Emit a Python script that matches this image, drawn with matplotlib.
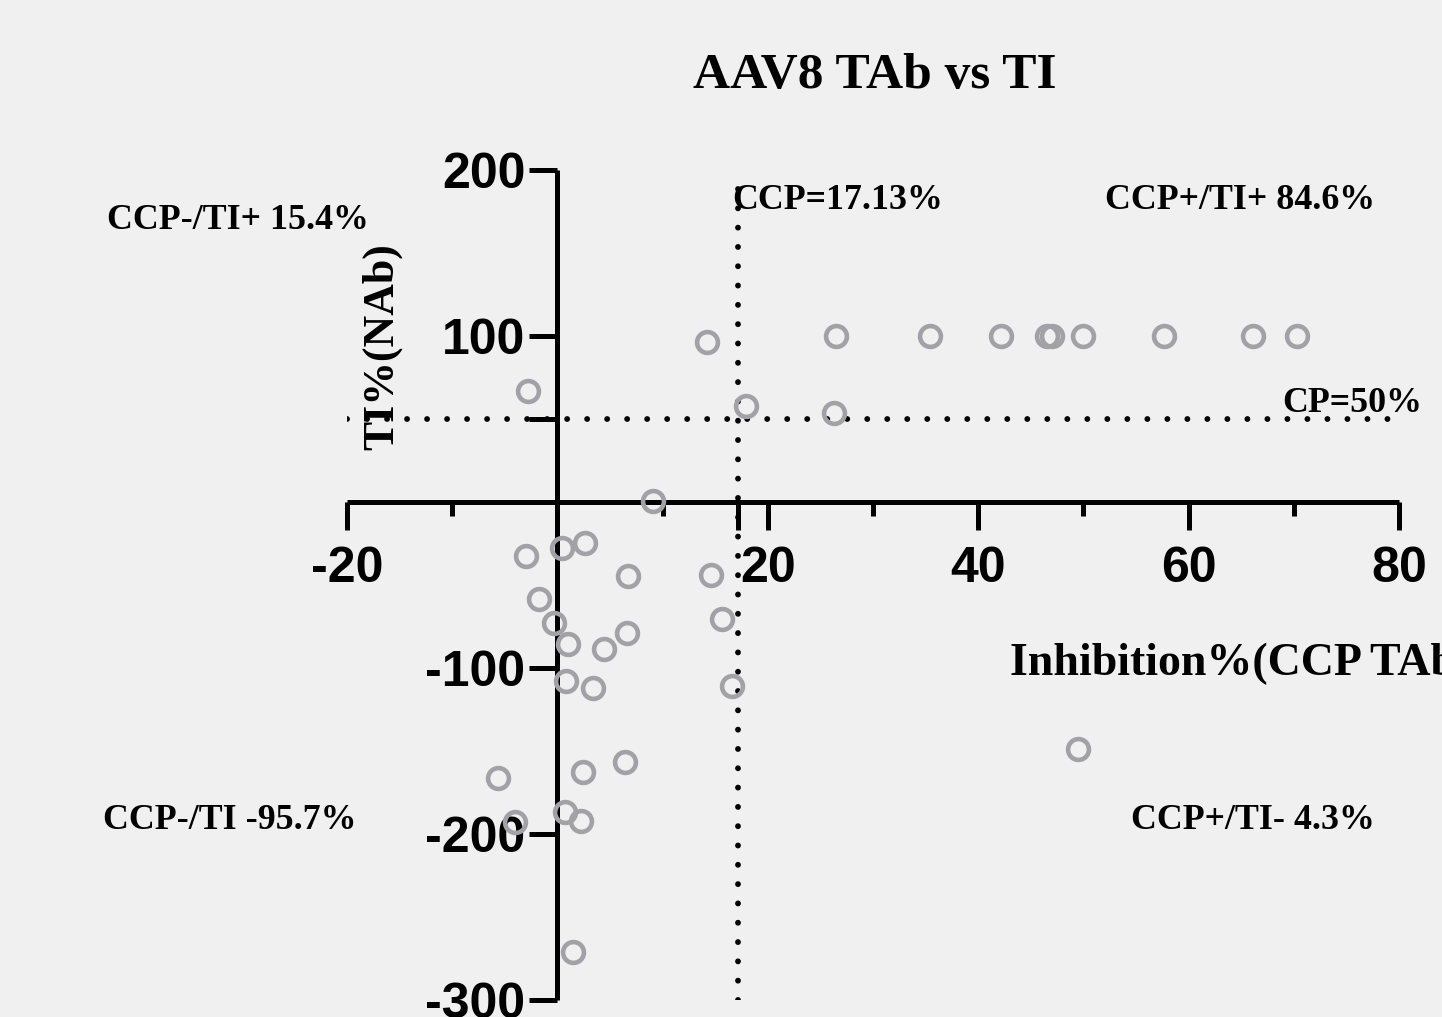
import matplotlib
matplotlib.use('Agg')
import matplotlib.pyplot as plt

W, H = 1442, 1017
DPI = 100

title = "AAV8 TAb vs TI"
x_label = "Inhibition%(CCP TAb)"
y_label = "TI%(NAb)"

# Data
inhibition = [26.5, 35.4, 42.2, 46.5, 47.0, 50.0, 57.7, 66.1, 70.3,
              17.9, 26.3, 14.25, -2.8,
              9.1, -2.95, 0.45, 2.66, 6.72, 14.6, -1.71, -0.35, 15.65, 6.62,
              1.02, 4.40, 0.86, 3.39, 16.6, 6.40, 2.41, -5.67, 0.70, 2.28,
              -4.06, 1.49,
              49.5]
ti = [100, 100, 100, 100, 100, 100, 100, 100, 100,
      57.6, 53.4, 96.1, 67.1,
      0.8, -32.7, -27.9, -24.9, -44.4, -44.0, -58.4, -72.9, -70.5, -78.9,
      -85.7, -88.6, -107.6, -112.0, -110.7, -156.4, -162.4, -166.5, -186.9, -192.3,
      -192.9, -270.9,
      -148.8]

ccp_cutoff = 17.13
cp_cutoff = 50
x_major = [-20, 20, 40, 60, 80]
x_minor = [-10, 10, 30, 50, 70]
y_major = [-300, -200, -100, 100, 200]
x_range = [-20, 80]
y_range = [-300, 200]

quadrant_texts = ["CCP-/TI+ 15.4%", "CCP=17.13%", "CCP+/TI+ 84.6%", "CP=50%",
                  "CCP-/TI -95.7%", "CCP+/TI- 4.3%"]
quadrant_pos = [(107, 229), (732, 209), (1105, 209), (1282, 412),
                (103, 829), (1131, 829)]

bg = '#f0f0f0'
marker_color = '#a2a2a6'

fig = plt.figure(figsize=(W / DPI, H / DPI), dpi=DPI, facecolor=bg)


def fx(px):
    return px / W


def fy(py):
    return 1 - py / H


ax = fig.add_axes([fx(347), fy(1000), (1399 - 347) / W, (1000 - 170) / H])
ax.set_facecolor('none')
ax.set_xlim(*x_range)
ax.set_ylim(*y_range)

for s in ['top', 'right']:
    ax.spines[s].set_visible(False)
ax.spines['left'].set_position(('data', 0))
ax.spines['bottom'].set_position(('data', 0))
for s in ['left', 'bottom']:
    ax.spines[s].set_linewidth(3.6)
    ax.spines[s].set_capstyle('butt')

ax.set_xticks(x_major + [ccp_cutoff])
ax.set_xticklabels([str(v) for v in x_major] + [''])
ax.set_xticks(x_minor, minor=True)
ax.set_yticks(y_major + [cp_cutoff])
ax.set_yticklabels([str(v) for v in y_major] + [''])

ax.tick_params(axis='both', which='major', direction='out', length=20, width=3.6,
               labelsize=36)
ax.tick_params(axis='x', which='minor', direction='out', length=10, width=3.6)
ax.tick_params(axis='x', which='major', pad=12)
ax.tick_params(axis='y', which='major', pad=3)
for lab in ax.get_xticklabels() + ax.get_yticklabels():
    lab.set_fontfamily('Liberation Sans')
    lab.set_fontweight('bold')

# dotted cutoff lines
ax.plot([ccp_cutoff, ccp_cutoff], y_range, color='black', lw=4.2,
        linestyle=(0, (0.01, 3.3)), dash_capstyle='round', zorder=3)
ax.plot(x_range, [cp_cutoff, cp_cutoff], color='black', lw=4.2,
        linestyle=(0, (0.01, 3.42)), dash_capstyle='round', zorder=3)

ax.plot(inhibition, ti, linestyle='none', marker='o', markersize=15,
        markerfacecolor='none', markeredgecolor=marker_color,
        markeredgewidth=3.3, zorder=4)

serif = 'Liberation Serif'
fig.text(fx(875), fy(88), title, ha='center', va='baseline', fontsize=37,
         fontweight='bold', family=serif)
fig.text(fx(1010), fy(675), x_label, ha='left', va='baseline', fontsize=33,
         fontweight='bold', family=serif)
fig.text(fx(382), fy(347), y_label, ha='center', va='center', rotation=90,
         fontsize=31.5, fontweight='bold', family=serif)

for t, (px, py) in zip(quadrant_texts, quadrant_pos):
    fig.text(fx(px), fy(py), t, ha='left', va='baseline', fontsize=25.8,
             fontweight='bold', family=serif)

fig.savefig('out.png', dpi=DPI, facecolor=bg)
